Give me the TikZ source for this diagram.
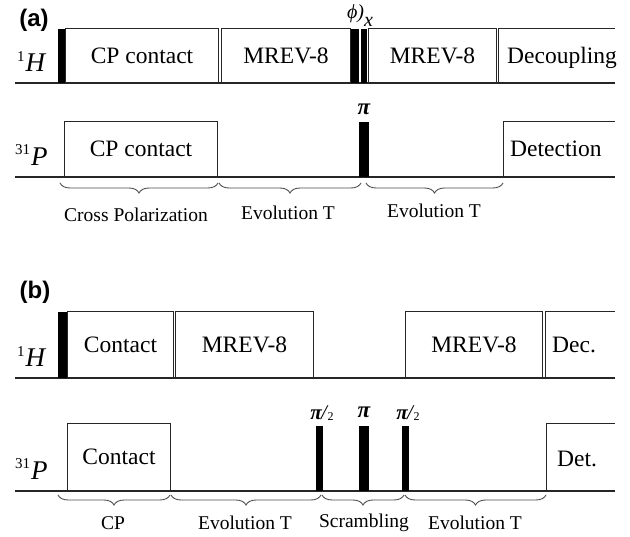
\documentclass[tikz,border=0pt]{standalone}
\usepackage{fontspec}
\setmainfont{Liberation Serif}
\setsansfont{Liberation Sans}
\usetikzlibrary{decorations.pathreplacing}
\begin{document}
\begin{tikzpicture}[x=1pt,y=-1pt,
  axis/.style={line width=1.3pt, draw=black!85},
  box/.style={draw=black!85, line width=1pt, inner sep=0pt, anchor=south west,
    font=\fontsize{23.5}{26}\selectfont},
  openbox/.style={draw=black!85, line width=1pt},
  boxtext/.style={anchor=base west, inner sep=0pt, font=\fontsize{23.5}{26}\selectfont},
  pulse/.style={fill=black, draw=none, inner sep=0pt, anchor=south west},
  brc/.style={decorate, decoration={brace, mirror, amplitude=10pt}, draw=black!70, line width=0.9pt},
  blabel/.style={inner sep=0pt, font=\fontsize{19.5}{22}\selectfont},
  panel/.style={inner sep=0pt, font=\sffamily\bfseries\fontsize{24}{26}\selectfont},
  nuc/.style={anchor=base west, inner sep=0pt, font=\fontsize{27}{30}\selectfont},
  plabel/.style={inner sep=0pt, font=\fontsize{23}{24}\selectfont\bfseries\itshape},
  halfpi/.style={inner sep=0pt, font=\fontsize{21}{22}\selectfont}
]
\useasboundingbox (0,0) rectangle (630,537);

% ---------------- panel (a)
\node[panel] (la) at (34,20) {(a)};
% 1H
\draw[axis] (15,83) coordinate (ha0) -- (615,83) coordinate (ha1);
\node[nuc] (nHa) at (17,72) {\raisebox{10pt}{\fontsize{15}{15}\selectfont 1}\kern1pt\itshape H};
\node[pulse, minimum width=7, minimum height=54] (pa1) at (58,83) {};
\node[box, minimum width=153, minimum height=54] (cpa) at (65,83) {CP contact};
\node[box, minimum width=129, minimum height=54] (mra1) at (221,83) {MREV-8};
\node[pulse, minimum width=7.5, minimum height=54] (pa2) at (351,83) {};
\node[pulse, minimum width=6.5, minimum height=54] (pa3) at (360.5,83) {};
\node[box, minimum width=128, minimum height=54] (mra2) at (368,83) {MREV-8};
\coordinate (deca0) at (498,83);
\coordinate (deca1) at (615,29);
\draw[openbox] (deca0) |- (deca1);
\node[boxtext] (deca) at (507,64) {Decoupling};
\node[inner sep=0pt, font=\fontsize{20}{22}\selectfont\itshape] (phia) at (360,16) {ϕ)\raisebox{-8pt}{x}};
% 31P
\draw[axis] (15,177) coordinate (pa0) -- (615,177) coordinate (pae);
\node[nuc] (nPa) at (15,166) {\raisebox{11pt}{\fontsize{15}{15}\selectfont 31}\kern1pt\itshape P};
\node[box, minimum width=153, minimum height=55] (cpPa) at (64,177) {CP contact};
\node[pulse, minimum width=10, minimum height=55] (pia) at (359,177) {};
\node[plabel] (pilab) at (364,109) {π};
\coordinate (deta0) at (503,177);
\coordinate (deta1) at (615,122);
\draw[openbox] (deta0) |- (deta1);
\node[boxtext] (deta) at (510,157) {Detection};
% braces
\coordinate (ba0) at (60,183);
\coordinate (ba1) at (218,183);
\coordinate (ba2) at (219,183);
\coordinate (ba3) at (361,183);
\coordinate (ba4) at (366,183);
\coordinate (ba5) at (503,183);
\draw[brc] (ba0) -- (ba1);
\draw[brc] (ba2) -- (ba3);
\draw[brc] (ba4) -- (ba5);
\node[blabel] (cpl) at (136,215) {Cross Polarization};
\node[blabel] (ev1) at (288,213) {Evolution T};
\node[blabel] (ev2) at (434,211) {Evolution T};

% ---------------- panel (b)
\node[panel] (lb) at (35,292) {(b)};
% 1H
\draw[axis] (15,378) coordinate (hb0) -- (615,378) coordinate (hb1);
\node[nuc] (nHb) at (17,367) {\raisebox{10pt}{\fontsize{15}{15}\selectfont 1}\kern1pt\itshape H};
\node[pulse, minimum width=8.5, minimum height=66] (pb1) at (58,378) {};
\node[box, minimum width=106, minimum height=66] (cb) at (67,378) {Contact};
\node[box, minimum width=138, minimum height=66] (mrb1) at (175,378) {MREV-8};
\node[box, minimum width=137, minimum height=66] (mrb2) at (405,378) {MREV-8};
\coordinate (decb0) at (545,378);
\coordinate (decb1) at (615,312);
\draw[openbox] (decb0) |- (decb1);
\node[boxtext] (decb) at (552,353) {Dec.};
% 31P
\draw[axis] (15,491) coordinate (pb0) -- (615,491) coordinate (pbe);
\node[nuc] (nPb) at (15,480) {\raisebox{11pt}{\fontsize{15}{15}\selectfont 31}\kern1pt\itshape P};
\node[box, minimum width=103, minimum height=67] (cPb) at (67,491) {Contact};
\node[pulse, minimum width=7, minimum height=65] (hp1) at (316,491) {};
\node[pulse, minimum width=10, minimum height=65] (pib) at (359,491) {};
\node[pulse, minimum width=7, minimum height=65] (hp2) at (402,491) {};
\node[halfpi] (hl1) at (322,413) {\textbf{\textit{π}}\kern-1pt\textit{/}\kern-1pt\raisebox{-1pt}{\fontsize{12}{12}\selectfont 2}};
\node[plabel] (pl2) at (364,412) {π};
\node[halfpi] (hl2) at (408,413) {\textbf{\textit{π}}\kern-1pt\textit{/}\kern-1pt\raisebox{-1pt}{\fontsize{12}{12}\selectfont 2}};
\coordinate (detb0) at (546,491);
\coordinate (detb1) at (615,424);
\draw[openbox] (detb0) |- (detb1);
\node[boxtext] (detb) at (557,467) {Det.};
% braces
\coordinate (bb0) at (58,495);
\coordinate (bb1) at (170,495);
\coordinate (bb2) at (171,495);
\coordinate (bb3) at (321,495);
\coordinate (bb4) at (322,495);
\coordinate (bb5) at (404,495);
\coordinate (bb6) at (405,495);
\coordinate (bb7) at (546,495);
\draw[brc] (bb0) -- (bb1);
\draw[brc] (bb2) -- (bb3);
\draw[brc] (bb4) -- (bb5);
\draw[brc] (bb6) -- (bb7);
\node[blabel] (cpb) at (113,523) {CP};
\node[blabel] (ev3) at (245,523) {Evolution T};
\node[blabel] (scr) at (364,523) {Scrambling};
\node[blabel] (ev4) at (475,523) {Evolution T};
\end{tikzpicture}
\end{document}
